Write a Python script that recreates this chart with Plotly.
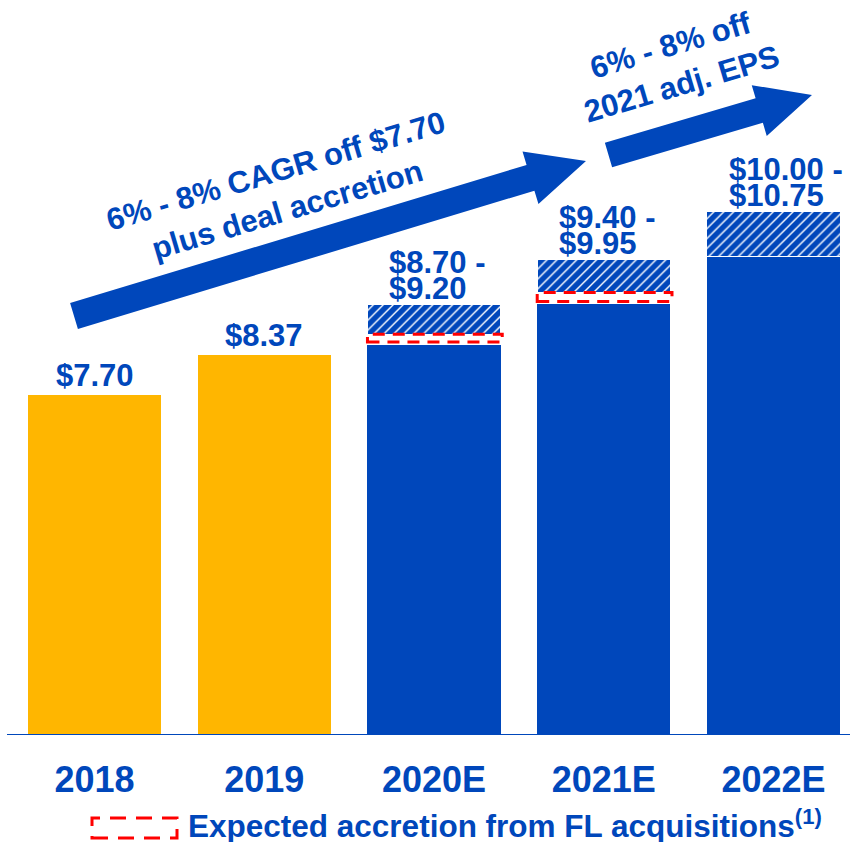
import plotly.graph_objects as go

# ---------------- data ----------------
categories = ["2018", "2019", "2020E", "2021E", "2022E"]
solid_eps = [7.70, 8.37, 8.52, 9.20, 10.00]          # solid bar height (actual / base)
guidance_low = [None, None, 8.70, 9.40, 10.00]        # low end of guidance range
guidance_high = [None, None, 9.20, 9.95, 10.75]       # high end of guidance range
point_labels = ["$7.70", "$8.37", None, None, None]
range_line1 = [None, None, "$8.70 -", "$9.40 -", "$10.00 -"]
range_line2 = [None, None, "$9.20", "$9.95", "$10.75"]
arrow1_text = "6% - 8% CAGR off $7.70<br>plus deal accretion"
arrow2_text = "6% - 8% off<br>2021 adj. EPS"
legend_text = "Expected accretion from FL acquisitions<sup>(1)</sup>"
axis_min = 2.0

# ---------------- style ----------------
W, H = 850, 842
PLOT_H = 735
BLUE = "#0047BB"
GOLD = "#FFB600"
RED = "#FF0000"
FONT = "Liberation Sans, Arial, sans-serif"
BAR_W = 0.784
PX_PER_CAT = 169.75
x_left = -94.5 / PX_PER_CAT
x_right = x_left + W / PX_PER_CAT
PX_PER_UNIT = 59.8
y_top = axis_min + PLOT_H / PX_PER_UNIT

accretion = [(lo - s) if lo is not None else 0 for lo, s in zip(guidance_low, solid_eps)]
hatch = [(hi - lo) if hi is not None else 0 for lo, hi in zip(guidance_low, guidance_high)]
solid_colors = [BLUE if c.endswith("E") else GOLD for c in categories]

fig = go.Figure()
fig.add_bar(x=categories, y=solid_eps, width=BAR_W, marker=dict(color=solid_colors, line=dict(width=0)),
            hoverinfo="skip")
fig.add_bar(x=categories, y=accretion, width=BAR_W, marker=dict(color="white", line=dict(width=0)),
            hoverinfo="skip")
fig.add_bar(x=categories, y=hatch, width=BAR_W,
            marker=dict(color="white", line=dict(width=1, color="white"),
                        pattern=dict(shape="/", fgcolor=BLUE, bgcolor="white", size=7, solidity=0.8,
                                     fgopacity=1)),
            hoverinfo="skip")


def paper(px, py):
    return px / W, 1 - py / PLOT_H


def arrow_path(tail, tip, w, hl, hw):
    dx, dy = tip[0] - tail[0], tip[1] - tail[1]
    L = (dx * dx + dy * dy) ** 0.5
    ux, uy = dx / L, dy / L
    nx, ny = -uy, ux
    bx, by = tail[0] + ux * (L - hl), tail[1] + uy * (L - hl)
    pts = [
        (tail[0] - nx * w, tail[1] - ny * w),
        (bx - nx * w, by - ny * w),
        (bx - nx * hw, by - ny * hw),
        tip,
        (bx + nx * hw, by + ny * hw),
        (bx + nx * w, by + ny * w),
        (tail[0] + nx * w, tail[1] + ny * w),
    ]
    pp = [paper(*p) for p in pts]
    return "M " + " L ".join(f"{a:.5f},{b:.5f}" for a, b in pp) + " Z"


shapes = []
# big arrows
shapes.append(dict(type="path", xref="paper", yref="paper", path=arrow_path((74, 316), (586, 161), 13.5, 58, 27.5),
                   fillcolor=BLUE, line=dict(width=0)))
shapes.append(dict(type="path", xref="paper", yref="paper", path=arrow_path((608.5, 155), (812, 95), 12.8, 55, 26.5),
                   fillcolor=BLUE, line=dict(width=0)))

# dashed accretion boxes
for i, (s, a) in enumerate(zip(solid_eps, accretion)):
    if a > 0:
        shapes.append(dict(type="rect", xref="x", yref="y", x0=i - BAR_W / 2, x1=i + BAR_W / 2 + 0.01,
                           y0=s + 0.05, y1=s + a,
                           line=dict(color=RED, width=3, dash="12px,8px"), fillcolor="rgba(0,0,0,0)"))

# axis line
shapes.append(dict(type="line", xref="paper", yref="y", x0=7 / W, x1=1, y0=axis_min, y1=axis_min,
                   line=dict(color=BLUE, width=2)))

# legend dashed box
lx0, ly0 = paper(92, 838)
lx1, ly1 = paper(177, 818)
shapes.append(dict(type="rect", xref="paper", yref="paper", x0=lx0, x1=lx1, y0=ly0, y1=ly1,
                   line=dict(color=RED, width=3, dash="16px,10px"), fillcolor="rgba(0,0,0,0)"))

annotations = []
for i, lab in enumerate(point_labels):
    if lab:
        annotations.append(dict(x=i, y=solid_eps[i], xref="x", yref="y", text=lab, showarrow=False,
                                xanchor="center", yanchor="middle", yshift=19,
                                font=dict(family=FONT, size=31, color=BLUE, weight="bold")))
for i, (l1, l2) in enumerate(zip(range_line1, range_line2)):
    if l1:
        for txt, ys in ((l1, 42), (l2, 16)):
            annotations.append(dict(x=i, y=guidance_high[i], xref="x", yref="y", text=txt, showarrow=False,
                                    xanchor="left", yanchor="middle", yshift=ys, xshift=-47,
                                    font=dict(family=FONT, size=31, color=BLUE, weight="bold")))

ax1, ay1 = paper(281, 191)
annotations.append(dict(x=ax1, y=ay1, xref="paper", yref="paper", text=arrow1_text, showarrow=False,
                        textangle=-16.5, xanchor="center", yanchor="middle", align="center",
                        font=dict(family=FONT, size=31, color=BLUE, weight="bold")))
ax2, ay2 = paper(676, 64)
annotations.append(dict(x=ax2, y=ay2, xref="paper", yref="paper", text=arrow2_text, showarrow=False,
                        textangle=-16.5, xanchor="center", yanchor="middle", align="center",
                        font=dict(family=FONT, size=31, color=BLUE, weight="bold")))
gx, gy = paper(186, 824)
annotations.append(dict(x=gx, y=gy, xref="paper", yref="paper", text=legend_text, showarrow=False,
                        xanchor="left", yanchor="middle",
                        font=dict(family=FONT, size=31.5, color=BLUE, weight="bold")))

fig.update_layout(
    width=W, height=H,
    margin=dict(l=0, r=0, t=0, b=H - PLOT_H),
    barmode="stack", bargap=0.2,
    showlegend=False,
    plot_bgcolor="white", paper_bgcolor="white",
    xaxis=dict(type="category", range=[x_left, x_right], showgrid=False, zeroline=False, showline=False,
               ticks="", tickfont=dict(family=FONT, size=36, color=BLUE, weight="bold"),
               ticklabelstandoff=20, fixedrange=True),
    yaxis=dict(range=[axis_min, y_top], showgrid=False, zeroline=False, showline=False,
               showticklabels=False, ticks="", fixedrange=True),
    shapes=shapes,
    annotations=annotations,
)

fig.write_html("out.html", config={"displayModeBar": False},
               post_script="document.body.style.margin='0px';document.body.style.overflow='hidden';")
